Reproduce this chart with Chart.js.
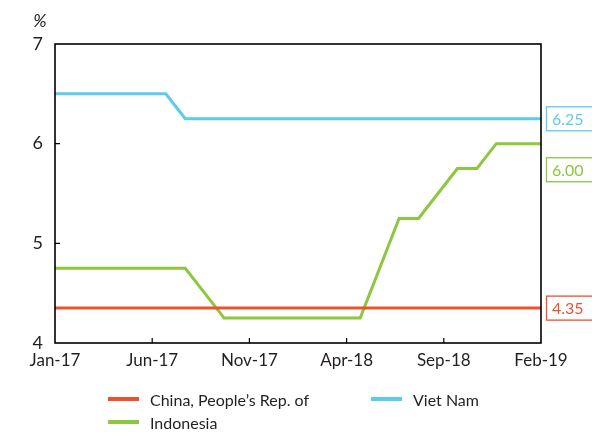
<!DOCTYPE html>
<html lang="en">
<head>
    <meta charset="UTF-8">
    <title>Policy rates</title>
    <script src="https://cdn.jsdelivr.net/npm/chart.js"></script>
    <style>
        body {
            margin: 0;
            font-family: Lato, "Open Sans", sans-serif;
            background: #fff;
        }
        #wrap {
            position: relative;
            width: 592px;
            height: 441px;
        }
        .legend-item {
            position: absolute;
            display: flex;
            align-items: center;
            font-size: 16px;
            color: #231f20;
            white-space: nowrap;
        }
        .legend-item span.sw {
            display: inline-block;
            width: 31px;
            height: 4px;
            margin-right: 11px;
        }
    </style>
</head>
<body>
<div id="wrap">
    <canvas id="myChart"></canvas>
</div>

<script>
    // monthly observations (taken late in each month), Dec-16 .. Feb-19
    const months = ['2016-12',
        '2017-01', '2017-02', '2017-03', '2017-04', '2017-05', '2017-06',
        '2017-07', '2017-08', '2017-09', '2017-10', '2017-11', '2017-12',
        '2018-01', '2018-02', '2018-03', '2018-04', '2018-05', '2018-06',
        '2018-07', '2018-08', '2018-09', '2018-10', '2018-11', '2018-12',
        '2019-01', '2019-02'];
    const obsDay = 22;

    const china = [4.35,
        4.35, 4.35, 4.35, 4.35, 4.35, 4.35,
        4.35, 4.35, 4.35, 4.35, 4.35, 4.35,
        4.35, 4.35, 4.35, 4.35, 4.35, 4.35,
        4.35, 4.35, 4.35, 4.35, 4.35, 4.35,
        4.35, 4.35];
    const vietNam = [6.5,
        6.5, 6.5, 6.5, 6.5, 6.5, 6.5,
        6.25, 6.25, 6.25, 6.25, 6.25, 6.25,
        6.25, 6.25, 6.25, 6.25, 6.25, 6.25,
        6.25, 6.25, 6.25, 6.25, 6.25, 6.25,
        6.25, 6.25];
    const indonesia = [4.75,
        4.75, 4.75, 4.75, 4.75, 4.75, 4.75,
        4.75, 4.5, 4.25, 4.25, 4.25, 4.25,
        4.25, 4.25, 4.25, 4.25, 4.75, 5.25,
        5.25, 5.5, 5.75, 5.75, 6.0, 6.0,
        6.0, 6.0];

    const tickLabels = ['Jan-17', 'Jun-17', 'Nov-17', 'Apr-18', 'Sep-18', 'Feb-19'];
    const yTicks = [4, 5, 6, 7];

    const seriesNames = ['China, People\u2019s Rep. of', 'Viet Nam', 'Indonesia'];
    const seriesData = [china, vietNam, indonesia];
    const seriesColors = ['#ea5230', '#5ccbee', '#8dc63f'];
    const lastLabels = ['4.35', '6.25', '6.00'];

    const FONT = 'Lato, "Open Sans", sans-serif';
    const TEXT = '#231f20';

    // months since Jan-17, with the day of observation
    function monthPos(m) {
        const [y, mo] = m.split('-').map(Number);
        return (y - 2017) * 12 + (mo - 1) + (obsDay - 1) / 30;
    }

    const datasets = seriesNames.map((name, i) => ({
        label: name,
        data: seriesData[i].map((v, k) => ({ x: monthPos(months[k]), y: v })),
        borderColor: seriesColors[i],
        backgroundColor: seriesColors[i],
        borderWidth: 3,
        pointRadius: 0,
        tension: 0,
        clip: 0
    }));

    const framePlugin = {
        id: 'frame',
        afterDatasetsDraw(chart) {
            const { ctx, chartArea: a, scales: { x, y } } = chart;
            ctx.save();
            ctx.strokeStyle = '#000';
            ctx.lineWidth = 1.6;
            ctx.strokeRect(a.left, a.top, a.right - a.left, a.bottom - a.top);

            // inner tick marks
            ctx.lineWidth = 1.2;
            ctx.beginPath();
            for (let i = 1; i < tickLabels.length - 1; i++) {
                const px = x.getPixelForValue(i * 5);
                ctx.moveTo(px, a.bottom);
                ctx.lineTo(px, a.bottom - 5);
            }
            yTicks.slice(1, -1).forEach(v => {
                const py = y.getPixelForValue(v);
                ctx.moveTo(a.left, py);
                ctx.lineTo(a.left + 5, py);
            });
            ctx.stroke();

            // unit label
            ctx.fillStyle = TEXT;
            ctx.font = 'italic 18px ' + FONT;
            ctx.textAlign = 'center';
            ctx.textBaseline = 'middle';
            ctx.fillText('%', 40, 21);

            // end-value boxes
            const items = seriesData.map((d, i) => ({
                i, py: y.getPixelForValue(d[d.length - 1])
            })).sort((p, q) => p.py - q.py);
            let prev = -Infinity;
            items.forEach(it => {
                const cy = Math.max(it.py, prev + 51);
                prev = cy;
                const c = seriesColors[it.i];
                ctx.strokeStyle = c;
                ctx.lineWidth = 1.3;
                ctx.fillStyle = '#fff';
                ctx.fillRect(546, cy - 12, 50, 24);
                ctx.strokeRect(546.5, cy - 12, 50, 24);
                ctx.fillStyle = c;
                ctx.font = '16px ' + FONT;
                ctx.textAlign = 'left';
                ctx.fillText(lastLabels[it.i], 552, cy + 1);
            });
            ctx.restore();
        }
    };

    new Chart(document.getElementById('myChart'), {
        type: 'line',
        data: { datasets },
        options: {
            responsive: true,
            maintainAspectRatio: false,
            animation: false,
            layout: { padding: { left: 0, right: 51, top: 44, bottom: 68 } },
            plugins: {
                legend: { display: false },
                tooltip: { enabled: false }
            },
            scales: {
                x: {
                    type: 'linear',
                    min: 0,
                    max: 25,
                    afterFit: s => { s.height = 30; },
                    afterBuildTicks: s => {
                        s.ticks = tickLabels.map((t, i) => ({ value: i * 5 }));
                    },
                    grid: { display: false, drawTicks: false },
                    border: { display: false },
                    ticks: {
                        autoSkip: false,
                        maxRotation: 0,
                        padding: 7,
                        color: TEXT,
                        font: { family: FONT, size: 17 },
                        callback: v => tickLabels[v / 5]
                    }
                },
                y: {
                    min: 4,
                    max: 7,
                    afterFit: s => { s.width = 55; },
                    afterBuildTicks: s => {
                        s.ticks = yTicks.map(v => ({ value: v }));
                    },
                    grid: { display: false, drawTicks: false },
                    border: { display: false },
                    ticks: {
                        padding: 12,
                        color: TEXT,
                        font: { family: FONT, size: 18 }
                    }
                }
            }
        },
        plugins: [framePlugin]
    });

    // legend in two columns, as in the source
    const wrap = document.getElementById('wrap');
    const legendPos = [[108, 399], [371, 399], [108, 422]];
    seriesNames.forEach((name, i) => {
        const el = document.createElement('div');
        el.className = 'legend-item';
        el.style.left = legendPos[i][0] + 'px';
        el.style.top = (legendPos[i][1] - 11) + 'px';
        el.style.height = '22px';
        el.innerHTML = '<span class="sw" style="background:' + seriesColors[i] + '"></span>' + name;
        wrap.appendChild(el);
    });
</script>
</body>
</html>
